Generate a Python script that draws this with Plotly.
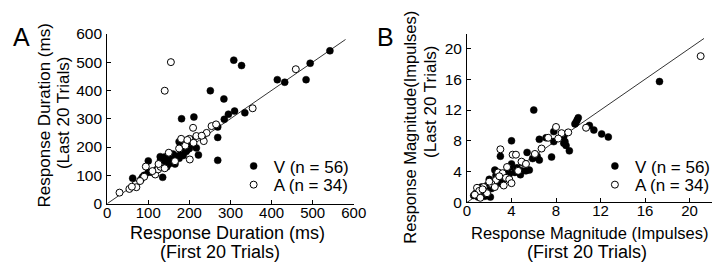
import plotly.graph_objects as go

# ---------------- Panel A: Response duration (ms) ----------------
a_v_first = [542, 494, 484, 414, 432, 308, 327, 251, 284, 335, 310, 295, 285, 181, 211, 269, 269, 269,
             233, 207, 217, 222, 175, 192, 180, 170, 160, 150, 140, 135, 145, 155, 165, 175, 185, 195,
             200, 140, 130, 150, 165, 130, 100, 100, 86, 82, 62, 135, 129, 120, 110, 90, 160, 205, 185, 145]
a_v_last = [540, 496, 438, 438, 429, 507, 488, 399, 370, 321, 327, 316, 298, 300, 306, 271, 234, 153,
            240, 227, 197, 172, 219, 184, 175, 168, 160, 165, 160, 150, 145, 150, 155, 160, 170, 190,
            195, 165, 155, 140, 140, 140, 151, 111, 94, 85, 90, 93, 166, 120, 110, 100, 175, 210, 195, 130]
a_a_first = [155, 140, 459, 354, 209, 242, 217, 235, 180, 200, 201, 94, 117, 124, 69, 71, 54, 30,
             254, 190, 210, 195, 165, 150, 130, 110, 90, 80, 60, 230, 265, 175, 140, 125]
a_a_last = [500, 399, 475, 337, 268, 250, 239, 221, 229, 229, 156, 131, 103, 121, 68, 58, 52, 39,
            274, 205, 215, 225, 150, 180, 130, 115, 95, 80, 60, 240, 280, 195, 125, 140]

# ---------------- Panel B: Response magnitude (impulses) ----------------
b_v_first = [17.3, 6.0, 4.0, 10.0, 9.9, 9.7, 11.0, 11.4, 12.1, 12.7, 8.7, 7.8, 7.1, 6.5, 7.8, 8.7, 8.9, 9.2,
             7.6, 5.4, 3.0, 6.1, 6.5, 5.1, 4.6, 4.9, 5.3, 5.6, 4.0, 3.9, 2.5, 2.6, 2.0, 1.3, 0.8, 1.0,
             2.1, 3.5, 3.8, 4.3, 4.5, 3.0, 2.5, 1.5, 1.8, 3.2, 4.8, 6.3, 8.8, 1.2, 2.2, 0.6, 1.6, 3.6, 5.9, 9.8]
b_v_last = [15.7, 12.0, 8.0, 11.0, 10.7, 10.2, 10.0, 9.4, 8.9, 8.5, 8.6, 9.2, 8.4, 8.2, 7.9, 7.7, 7.4, 6.7,
            5.9, 6.5, 6.0, 5.9, 5.5, 5.1, 4.2, 4.1, 4.1, 4.2, 5.0, 4.6, 4.2, 3.5, 3.0, 2.0, 1.2, 0.7,
            0.7, 3.5, 3.7, 3.9, 4.5, 2.5, 2.8, 1.5, 2.2, 3.0, 3.6, 6.0, 7.9, 1.0, 1.8, 0.9, 0.8, 4.0, 5.7, 10.4]
b_a_first = [21.0, 10.7, 8.0, 8.5, 7.3, 3.0, 4.1, 4.4, 4.9, 0.9, 2.8, 3.2, 3.5, 2.6, 2.2, 1.5, 1.1, 0.7,
             3.8, 4.0, 2.5, 1.8, 3.3, 6.1, 5.3, 4.6, 1.2, 2.0, 3.6, 9.1, 8.2, 6.7, 1.4, 2.9]
b_a_last = [19.0, 9.7, 9.8, 9.0, 8.4, 6.9, 6.2, 6.2, 5.3, 1.9, 3.9, 3.8, 3.2, 2.9, 2.4, 2.0, 1.5, 1.0,
            3.0, 2.5, 2.0, 1.2, 2.2, 6.3, 5.0, 4.1, 0.6, 2.7, 4.6, 9.1, 8.3, 7.0, 1.7, 3.4]

a_ticks = [0, 100, 200, 300, 400, 500, 600]
b_ticks = [0, 4, 8, 12, 16, 20]
a_unity = [0, 580]
b_unity = [0, 21.3]
v_label = "V (n = 56)"
a_label = "A (n = 34)"

FONT = "Liberation Sans, Arial, sans-serif"
W, H = 720, 262

fig = go.Figure()

def add_panel(xa, ya, vx, vy, ax, ay, unity, leg_v, leg_a):
    fig.add_trace(go.Scatter(x=unity, y=unity, mode="lines", line=dict(color="#333", width=1),
                             xaxis=xa, yaxis=ya, showlegend=False, hoverinfo="skip"))
    fig.add_trace(go.Scatter(x=vx, y=vy, mode="markers", name=v_label, legend=leg_v,
                             marker=dict(size=7, color="black", line=dict(color="black", width=0.5)),
                             xaxis=xa, yaxis=ya))
    fig.add_trace(go.Scatter(x=ax, y=ay, mode="markers", name=a_label, legend=leg_a,
                             marker=dict(size=7, color="white", line=dict(color="black", width=1)),
                             xaxis=xa, yaxis=ya))

add_panel("x", "y", a_v_first, a_v_last, a_a_first, a_a_last, a_unity, "legend", "legend2")
add_panel("x2", "y2", b_v_first, b_v_last, b_a_first, b_a_last, b_unity, "legend3", "legend4")

axis_common = dict(showline=True, linecolor="black", linewidth=1, ticks="inside", ticklen=4,
                   tickcolor="black", showgrid=False, zeroline=False, mirror=False)
xtickfont = dict(family=FONT, size=15, color="black")
ytickfont = dict(family=FONT, size=15.5, color="black")

def px(x):
    return x / W

def py(y):
    return 1 - y / H

def leg(x, ytop):
    return dict(x=px(x), y=py(ytop), xanchor="left", yanchor="top", bgcolor="rgba(0,0,0,0)",
                font=dict(family=FONT, size=17, color="black"), itemwidth=30)

fig.update_layout(
    width=W, height=H, margin=dict(l=0, r=0, t=0, b=0),
    paper_bgcolor="white", plot_bgcolor="white",
    font=dict(family=FONT, size=17, color="black"),
    xaxis=dict(domain=[px(97.5), px(350)], range=[0, 600], tickvals=a_ticks, anchor="y",
               ticklabelstandoff=-5, tickfont=xtickfont, **axis_common),
    yaxis=dict(domain=[py(199.6), py(18)], range=[0, 600], tickvals=a_ticks, anchor="x",
               ticklabelstandoff=1, tickfont=ytickfont, **axis_common),
    xaxis2=dict(domain=[px(466), px(719)], range=[0, 22.2], tickvals=b_ticks, anchor="y2",
                ticklabelstandoff=-5, tickfont=xtickfont, **axis_common),
    yaxis2=dict(domain=[py(198.3), py(18)], range=[0, 21.9], tickvals=b_ticks, anchor="x2",
                ticklabelstandoff=1, tickfont=ytickfont, **axis_common),
    legend=leg(227, 140.5),
    legend2=leg(227, 160.5),
    legend3=leg(597, 140.5),
    legend4=leg(597, 160.5),
    showlegend=True,
)

ann = []
def txt(s, x, y, angle=0, size=17, xanchor="center", yanchor="middle"):
    ann.append(dict(text=s, x=px(x), y=py(y), xref="paper", yref="paper", showarrow=False,
                    textangle=angle, xanchor=xanchor, yanchor=yanchor, borderpad=0,
                    font=dict(family=FONT, size=size, color="black")))

txt("A", 0, 21, size=25, xanchor="left")
txt("B", 373, 21, size=25, xanchor="left")
txt("Response Duration (ms)", 221, 230.5, size=18)
txt("(First 20 Trials)", 213, 251, size=18)
txt("Response Magnitude (Impulses)", 592, 230.5, size=16.5)
txt("(First 20 Trials)", 589, 251, size=18)
txt("Response Duration (ms)", 33, 105, angle=-90)
txt("(Last 20 Trials)", 53, 103, angle=-90)
txt("Response Magnitude(Impulses)", 408, 118, angle=-90, size=16.5)
txt("(Last 20 Trials)", 428, 91, angle=-90)
fig.update_layout(annotations=ann)

fig.write_html("out.html")
